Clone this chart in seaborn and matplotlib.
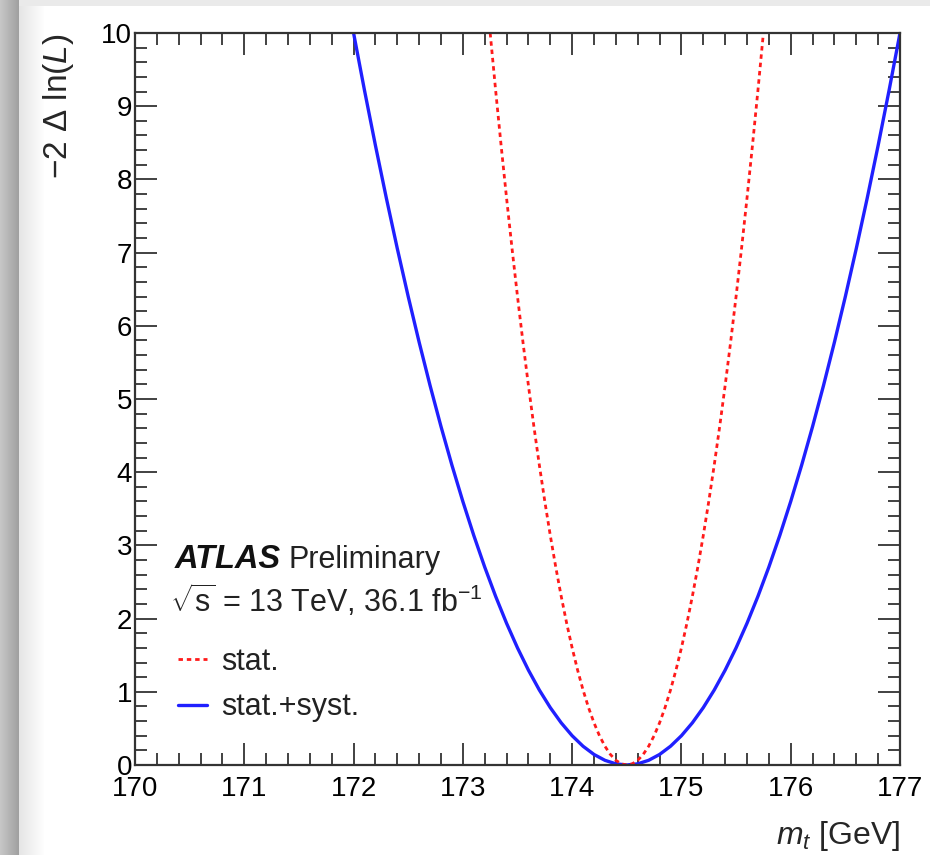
import numpy as np
import pandas as pd
import matplotlib
matplotlib.use("Agg")
import matplotlib.pyplot as plt
from matplotlib.ticker import MultipleLocator
import seaborn as sns

# ---- data ----
mass_syst = [172.0, 172.1, 172.2, 172.3, 172.4, 172.5, 172.6, 172.7, 172.8, 172.9,
             173.0, 173.1, 173.2, 173.3, 173.4, 173.5, 173.6, 173.7, 173.8, 173.9,
             174.0, 174.1, 174.2, 174.3, 174.4, 174.5, 174.6, 174.7, 174.8, 174.9,
             175.0, 175.1, 175.2, 175.3, 175.4, 175.5, 175.6, 175.7, 175.8, 175.9,
             176.0, 176.1, 176.2, 176.3, 176.4, 176.5, 176.6, 176.7, 176.8, 176.9, 177.0]
nll_syst = [10.0, 9.216, 8.464, 7.744, 7.056, 6.4, 5.776, 5.184, 4.624, 4.096,
            3.6, 3.136, 2.704, 2.304, 1.936, 1.6, 1.296, 1.024, 0.784, 0.576,
            0.4, 0.256, 0.144, 0.064, 0.016, 0.0, 0.016, 0.064, 0.144, 0.256,
            0.4, 0.576, 0.784, 1.024, 1.296, 1.6, 1.936, 2.304, 2.704, 3.136,
            3.6, 4.096, 4.624, 5.184, 5.776, 6.4, 7.056, 7.744, 8.464, 9.216, 10.0]
mass_stat = [173.25, 173.30, 173.35, 173.40, 173.45, 173.50, 173.55, 173.60, 173.65, 173.70,
             173.75, 173.80, 173.85, 173.90, 173.95, 174.00, 174.05, 174.10, 174.15, 174.20,
             174.25, 174.30, 174.35, 174.40, 174.45, 174.50, 174.55, 174.60, 174.65, 174.70,
             174.75, 174.80, 174.85, 174.90, 174.95, 175.00, 175.05, 175.10, 175.15, 175.20,
             175.25, 175.30, 175.35, 175.40, 175.45, 175.50, 175.55, 175.60, 175.65, 175.70, 175.75]
nll_stat = [10.0, 9.216, 8.464, 7.744, 7.056, 6.4, 5.776, 5.184, 4.624, 4.096,
            3.6, 3.136, 2.704, 2.304, 1.936, 1.6, 1.296, 1.024, 0.784, 0.576,
            0.4, 0.256, 0.144, 0.064, 0.016, 0.0, 0.016, 0.064, 0.144, 0.256,
            0.4, 0.576, 0.784, 1.024, 1.296, 1.6, 1.936, 2.304, 2.704, 3.136,
            3.6, 4.096, 4.624, 5.184, 5.776, 6.4, 7.056, 7.744, 8.464, 9.216, 10.0]
x_ticks = [170, 171, 172, 173, 174, 175, 176, 177]
y_ticks = [0, 1, 2, 3, 4, 5, 6, 7, 8, 9, 10]

df_syst = pd.DataFrame({"m": mass_syst, "nll": nll_syst})
df_stat = pd.DataFrame({"m": mass_stat, "nll": nll_stat})

sns.set_theme(style="ticks")
plt.rcParams["font.family"] = ["Liberation Sans", "DejaVu Sans"]
plt.rcParams["mathtext.fontset"] = "custom"
plt.rcParams["mathtext.rm"] = "Liberation Sans"
plt.rcParams["mathtext.it"] = "Liberation Sans:italic"
plt.rcParams["mathtext.bf"] = "Liberation Sans:bold"

W, H = 930, 855
fig = plt.figure(figsize=(W / 100, H / 100), dpi=100)
fig.patch.set_facecolor("white")

# screenshot-like shadow background
bg = fig.add_axes([0, 0, 1, 1], zorder=-10)
img = np.ones((H, W, 3))
img[:, :19, :] = np.linspace(0.78, 0.63, 19)[None, :, None]
fade = np.linspace(0.90, 1.0, 26)
img[:, 19:45, :] = fade[None, :, None]
img[:7, 19:, :] = 0.92
bg.imshow(img, aspect="auto", extent=[0, 1, 0, 1], interpolation="nearest")
bg.set_axis_off()

ax = fig.add_axes([135 / W, (H - 765) / H, (900 - 135) / W, (765 - 33) / H])
ax.set_facecolor("white")

sns.lineplot(data=df_syst, x="m", y="nll", ax=ax, color="#2020ff", lw=2.4,
             label="stat.+syst.", sort=False)
sns.lineplot(data=df_stat, x="m", y="nll", ax=ax, color="#ff1a1a", lw=2.0,
             label="stat.", sort=False, dashes=False)
ax.lines[1].set_dashes([1.6, 1.4])

ax.set_xlim(170, 177)
ax.set_ylim(0, 10)
ax.set_xticks(x_ticks)
ax.set_yticks(y_ticks)
ax.xaxis.set_minor_locator(MultipleLocator(0.2))
ax.yaxis.set_minor_locator(MultipleLocator(0.2))
ax.tick_params(which="both", direction="in", top=True, right=True,
               labelsize=20, colors="#333333", labelcolor="black", width=1.3)
ax.tick_params(which="major", length=16)
ax.tick_params(which="minor", length=8.5)
ax.tick_params(axis="x", which="major", pad=8)
ax.tick_params(axis="y", which="major", pad=2)
for s in ax.spines.values():
    s.set_linewidth(1.6)
    s.set_color("#333333")

ax.set_xlabel(r"$m_t$ [GeV]", fontsize=23, loc="right", labelpad=12)
ax.set_ylabel(r"$-$2 $\Delta$ ln($L$)", fontsize=24, loc="top", labelpad=18)

# ATLAS label
ax.text(0.0523, 0.269, "ATLAS", transform=ax.transAxes, fontsize=23.5,
        fontweight="bold", fontstyle="italic", color="#111111",
        va="baseline", ha="left")
ax.text((288 - 135) / 765, 0.269, "Preliminary", transform=ax.transAxes, fontsize=22,
        color="#222222", va="baseline", ha="left")
ax.text(0.046, 0.209, r"$\sqrt{\mathrm{s}}$ = 13 TeV, 36.1 fb$^{\mathrm{-1}}$",
        transform=ax.transAxes, fontsize=22, color="#222222",
        va="baseline", ha="left")

handles, labels = ax.get_legend_handles_labels()
order = [1, 0]
leg = ax.legend([handles[i] for i in order], [labels[i] for i in order],
                loc="upper left", bbox_to_anchor=((178 - 135) / 765, (765 - 647) / 732),
                frameon=False, borderpad=0, borderaxespad=0,
                fontsize=22, handlelength=0.95, handletextpad=0.45,
                labelspacing=0.5, labelcolor="#222222")

fig.savefig("out.png", dpi=100)
